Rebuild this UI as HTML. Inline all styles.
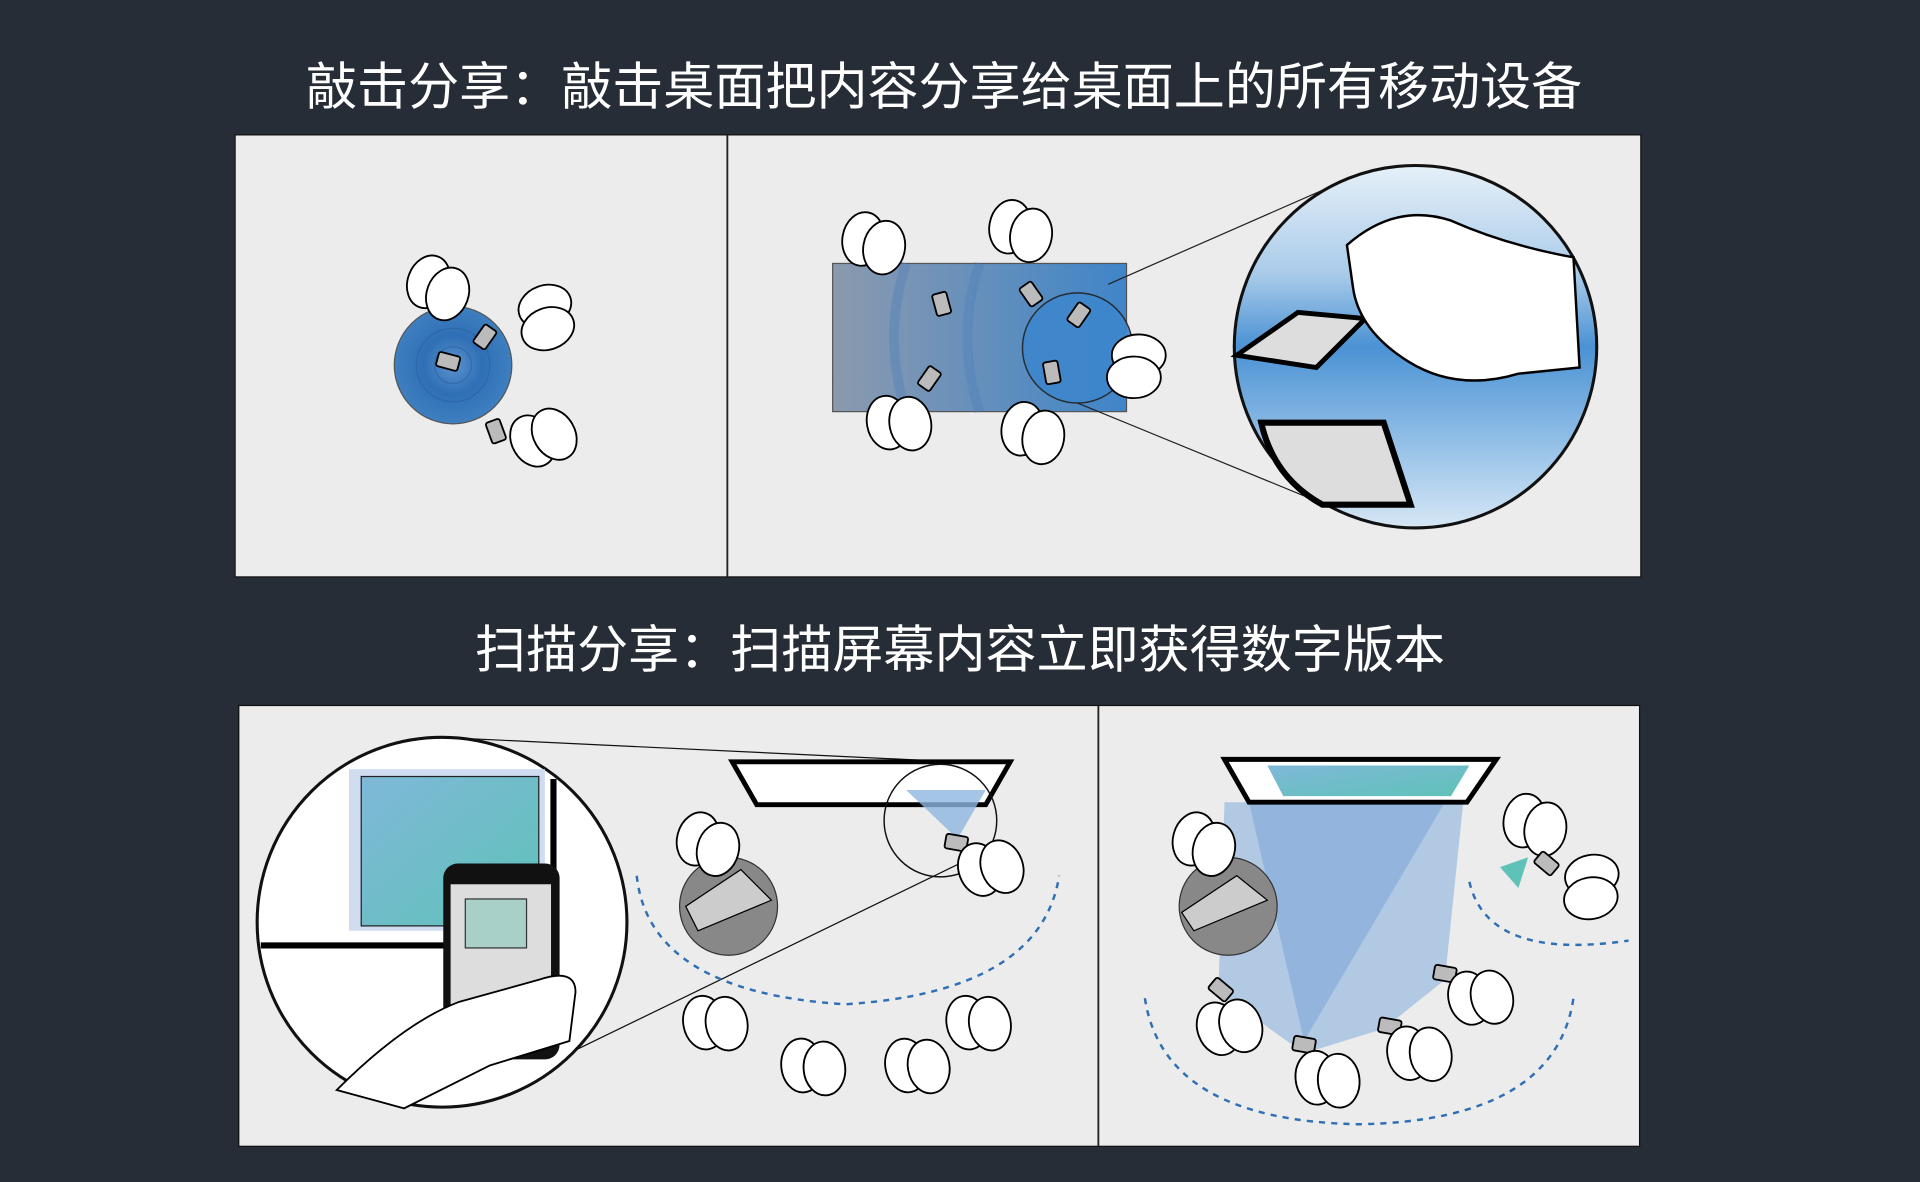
<!DOCTYPE html>
<html><head><meta charset="utf-8"><style>
html,body{margin:0;padding:0;background:#272d36;}
svg{display:block}
text{font-family:"Liberation Sans","Noto Sans CJK SC",sans-serif;fill:#fff}
</style></head><body>
<svg width="1920" height="1182" viewBox="0 0 1568 965" xmlns="http://www.w3.org/2000/svg">
<defs>
<radialGradient id="rb" cx="50%" cy="50%" r="50%">
<stop offset="0" stop-color="#5b93cf"/><stop offset="0.5" stop-color="#2f6fb5"/><stop offset="1" stop-color="#3e7fc0"/>
</radialGradient>
<linearGradient id="tb" x1="0" x2="1"><stop offset="0" stop-color="#8b9aae"/><stop offset="1" stop-color="#3f85c9"/></linearGradient>
<linearGradient id="zb" x1="0" y1="0" x2="0" y2="1"><stop offset="0" stop-color="#e6f0f8"/><stop offset="0.3" stop-color="#a9cbe9"/><stop offset="0.5" stop-color="#4b92d4"/><stop offset="0.75" stop-color="#8fbde6"/><stop offset="1" stop-color="#d6e7f5"/></linearGradient>
<linearGradient id="cy" x1="0" y1="0" x2="1" y2="1"><stop offset="0" stop-color="#7fb8d8"/><stop offset="1" stop-color="#5fc2b8"/></linearGradient>
<g id="h"><ellipse cx="0" cy="0" rx="17" ry="22" fill="#fff" stroke="#000" stroke-width="1.5"/><ellipse cx="18" cy="4" rx="17" ry="22" fill="#fff" stroke="#000" stroke-width="1.5"/></g>
<g id="p"><rect x="-6" y="-9" width="12" height="18" rx="2" fill="#bbb" stroke="#000" stroke-width="1.5"/></g>
</defs>

<text x="771" y="85" font-size="41.7" text-anchor="middle">敲击分享：敲击桌面把内容分享给桌面上的所有移动设备</text>
<text x="784" y="545" font-size="41.7" text-anchor="middle">扫描分享：扫描屏幕内容立即获得数字版本</text>

<!-- Panel 1 -->
<rect x="192" y="110" width="1148" height="361" fill="#ebeceb" stroke="#111" stroke-width="1"/>
<line x1="594" y1="110" x2="594" y2="471" stroke="#222" stroke-width="1.5"/>
<circle cx="370" cy="298" r="48" fill="url(#rb)" stroke="#555"/>
<circle cx="370" cy="298" r="30" fill="none" stroke="#2a5f9e" opacity=".6"/>
<circle cx="370" cy="298" r="15" fill="none" stroke="#2a5f9e" opacity=".6"/>
<use href="#p" transform="translate(396,275) rotate(35)"/>
<use href="#p" transform="translate(366,295) rotate(-75)"/>
<use href="#p" transform="translate(405,352) rotate(-20)"/>
<use href="#h" transform="translate(350,230) rotate(20)"/>
<use href="#h" transform="translate(445,250) rotate(70)"/>
<use href="#h" transform="translate(435,360) rotate(-30)"/>

<rect x="680" y="215" width="240" height="121" fill="url(#tb)" stroke="#555"/>
<path d="M740,215 Q720,275 740,336 M800,215 Q780,275 800,336" fill="none" stroke="#4f7fb8" stroke-width="8" opacity=".4"/>
<circle cx="880" cy="284" r="45" fill="#3e86cc" stroke="#222" stroke-width="1.2" opacity=".9"/>
<use href="#p" transform="translate(769,248) rotate(-15)"/>
<use href="#p" transform="translate(842,240) rotate(-35)"/>
<use href="#p" transform="translate(881,257) rotate(35)"/>
<use href="#p" transform="translate(759,309) rotate(35)"/>
<use href="#p" transform="translate(859,304) rotate(-10)"/>
<use href="#h" transform="translate(705,195) rotate(10)"/>
<use href="#h" transform="translate(825,185) rotate(10)"/>
<use href="#h" transform="translate(930,290) rotate(90)"/>
<use href="#h" transform="translate(725,345) rotate(-10)"/>
<use href="#h" transform="translate(835,350) rotate(10)"/>
<line x1="905" y1="232" x2="1085" y2="153" stroke="#222"/>
<line x1="880" y1="329" x2="1085" y2="413" stroke="#222"/>
<circle cx="1156" cy="283" r="148" fill="url(#zb)" stroke="#111" stroke-width="2.5"/>
<polygon points="1010,290 1060,255 1115,260 1075,300" fill="#ddd" stroke="#000" stroke-width="4"/>
<path d="M1030,345 L1130,345 L1152,412 L1080,412 Q1040,390 1030,345Z" fill="#ddd" stroke="#000" stroke-width="5"/>
<path d="M1100,200 Q1140,165 1185,180 Q1230,200 1285,210 L1290,300 L1240,305 Q1190,320 1150,295 Q1110,270 1105,235Z" fill="#fff" stroke="#000" stroke-width="2"/>

<!-- Panel 2 -->
<rect x="195" y="576" width="1144" height="360" fill="#ebeceb" stroke="#111" stroke-width="1"/>
<line x1="897" y1="576" x2="897" y2="936" stroke="#222" stroke-width="1.5"/>
<line x1="360" y1="602" x2="780" y2="622" stroke="#111"/>
<line x1="440" y1="872" x2="790" y2="702" stroke="#111"/>
<circle cx="361" cy="753" r="151" fill="#fff" stroke="#111" stroke-width="2.5"/>
<rect x="285" y="628" width="160" height="132" fill="#d0dcf0"/>
<rect x="295" y="634" width="145" height="122" fill="url(#cy)" stroke="#222"/>
<line x1="213" y1="772" x2="380" y2="772" stroke="#000" stroke-width="5"/>
<line x1="452" y1="636" x2="452" y2="760" stroke="#000" stroke-width="5"/>
<rect x="362" y="705" width="95" height="160" rx="12" fill="#111"/>
<rect x="368" y="722" width="82" height="120" fill="#ddd"/>
<rect x="380" y="734" width="50" height="40" fill="#a8d0c8" stroke="#333"/>
<path d="M275,890 Q330,835 375,818 L440,800 Q470,790 470,810 L465,850 L400,870 L330,905Z" fill="#fff" stroke="#000" stroke-width="1.5"/>
<polygon points="598,622 825,622 805,657 618,657" fill="#fff" stroke="#000" stroke-width="4"/>
<circle cx="768" cy="670" r="46" fill="none" stroke="#111" stroke-width="1.2"/>
<polygon points="740,645 805,645 782,685" fill="#8fb6e0" opacity=".8"/>
<path d="M520,715 Q530,810 690,820 Q850,810 865,715" fill="none" stroke="#2f6fb5" stroke-width="2" stroke-dasharray="5,5"/>
<circle cx="595" cy="740" r="40" fill="#888" stroke="#333"/>
<polygon points="560,740 605,710 630,735 570,760" fill="#ccc" stroke="#000"/>
<use href="#h" transform="translate(570,685) rotate(15)"/>
<use href="#p" transform="translate(781,688) rotate(-80)"/>
<use href="#h" transform="translate(800,710) rotate(-20)"/>
<use href="#h" transform="translate(575,835) rotate(-10)"/>
<use href="#h" transform="translate(655,870) rotate(-5)"/>
<use href="#h" transform="translate(740,870) rotate(-10)"/>
<use href="#h" transform="translate(790,835) rotate(-10)"/>

<polygon points="1000,655 1195,655 1180,800 1130,840 1065,860 995,810" fill="#7aa6dc" opacity=".5"/>
<polygon points="1020,655 1180,655 1065,850" fill="#4b86cf" opacity=".3"/>
<polygon points="1000,620 1222,620 1198,655 1020,655" fill="#fff" stroke="#000" stroke-width="4"/>
<polygon points="1035,625 1200,625 1185,650 1048,650" fill="url(#cy)"/>
<path d="M935,815 Q950,915 1110,918 Q1270,915 1285,815" fill="none" stroke="#2f6fb5" stroke-width="2" stroke-dasharray="5,5"/>
<path d="M1200,720 Q1215,785 1330,768" fill="none" stroke="#2f6fb5" stroke-width="2" stroke-dasharray="5,5"/>
<circle cx="1003" cy="740" r="40" fill="#888" stroke="#333"/>
<polygon points="965,745 1010,715 1035,735 975,760" fill="#ccc" stroke="#000"/>
<use href="#h" transform="translate(975,685) rotate(15)"/>
<use href="#h" transform="translate(1245,670) rotate(10)"/>
<use href="#h" transform="translate(1300,715) rotate(80)"/>
<polygon points="1225,708 1248,700 1240,725" fill="#5fc2b8"/>
<use href="#p" transform="translate(1263,705) rotate(-50)"/>
<use href="#p" transform="translate(997,808) rotate(-50)"/>
<use href="#p" transform="translate(1065,853) rotate(-80)"/>
<use href="#p" transform="translate(1135,838) rotate(-80)"/>
<use href="#p" transform="translate(1180,795) rotate(-80)"/>
<use href="#h" transform="translate(995,840) rotate(-20)"/>
<use href="#h" transform="translate(1075,880) rotate(-5)"/>
<use href="#h" transform="translate(1150,860) rotate(-10)"/>
<use href="#h" transform="translate(1200,815) rotate(-15)"/>
</svg>
</body></html>
